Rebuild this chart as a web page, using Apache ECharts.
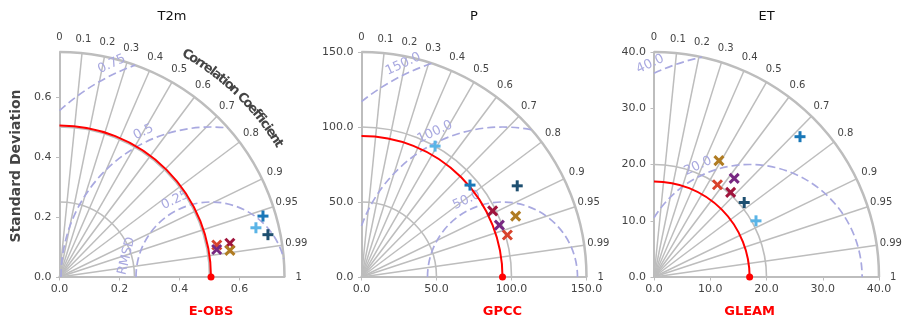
<!DOCTYPE html>
<html>
<head>
<meta charset="utf-8">
<script src="https://cdn.jsdelivr.net/npm/echarts@6/dist/echarts.min.js"></script>
<style>
  html, body { margin: 0; padding: 0; background: #fff; }
  #main { width: 911px; height: 330px; }
</style>
</head>
<body>
<div id="main"></div>
<script>
// panels
var titles = ['T2m', 'P', 'ET'];
var refNames = ['E-OBS', 'GPCC', 'GLEAM'];
var refStd = [0.505, 94, 17];
var stdMax = [0.75, 150, 40];
var stdStep = [0.2, 50, 10];
var stdArcs = [[0.25, 0.5], [50, 100], [20]];
var rmsdLevels = [[0.25, 0.5, 0.75], [50, 100, 150], [20, 40]];
var rmsdLabels = [['0.25', '0.5', '0.75'], ['50.0', '100.0', '150.0'], ['20.0', '40.0']];
var corrTicks = [0, 0.1, 0.2, 0.3, 0.4, 0.5, 0.6, 0.7, 0.8, 0.9, 0.95, 0.99, 1];
var corrLabels = ['0', '0.1', '0.2', '0.3', '0.4', '0.5', '0.6', '0.7', '0.8', '0.9', '0.95', '0.99', '1'];

// models, same order in every panel
var modelColors = ['#1a78b8', '#5ab4e6', '#1e4f70', '#d8432c', '#a0143c', '#782882', '#b07c22'];
var modelMarkers = ['+', '+', '+', 'x', 'x', 'x', 'x'];
var stdT2m = [0.708, 0.675, 0.709, 0.535, 0.579, 0.532, 0.575];
var corrT2m = [0.958, 0.970, 0.980, 0.980, 0.981, 0.985, 0.988];
var stdP = [94.8, 100.1, 120.3, 101.2, 97.9, 98.2, 110.5];
var corrP = [0.763, 0.490, 0.863, 0.961, 0.893, 0.936, 0.930];
var stdET = [36.0, 20.7, 20.8, 19.9, 20.3, 22.6, 23.7];
var corrET = [0.721, 0.876, 0.771, 0.567, 0.671, 0.631, 0.487];
var modelStd = [stdT2m, stdP, stdET];
var modelCorr = [corrT2m, corrP, corrET];

var gridColor = '#bdbdbd';
var rmsdColor = '#a9a9e0';
var textColor = '#444';
var FONT = '"DejaVu Sans"';
var gridLeft = [59.5, 361.5, 654];

function toXY(s, c) {
  return [s * c, s * Math.sqrt(Math.max(0, 1 - c * c))];
}

var measureCtx = document.createElement('canvas').getContext('2d');

function frameItem(p) {
  return function (params, api) {
    var R = stdMax[p], ref = refStd[p];
    var o = api.coord([0, 0]);
    var k = (api.coord([R, 0])[0] - o[0]) / R;
    var kids = [];
    // std arcs
    stdArcs[p].concat([R]).forEach(function (s) {
      kids.push({
        type: 'arc',
        shape: { cx: o[0], cy: o[1], r: s * k, startAngle: -Math.PI / 2, endAngle: 0, clockwise: true },
        style: { stroke: gridColor, lineWidth: s === R ? 2.5 : 1.6, fill: 'none' }
      });
    });
    // correlation rays
    corrTicks.forEach(function (c) {
      if (c <= 0 || c >= 1) return;
      var e = api.coord(toXY(R, c));
      kids.push({
        type: 'line',
        shape: { x1: o[0], y1: o[1], x2: e[0], y2: e[1] },
        style: { stroke: gridColor, lineWidth: 1.5 }
      });
    });
    // correlation tick labels
    corrTicks.forEach(function (c, i) {
      var e = api.coord(toXY(R * 1.063, c));
      kids.push({
        type: 'text', x: e[0], y: e[1],
        style: { text: corrLabels[i], fill: textColor, font: '10px ' + FONT, align: 'center', verticalAlign: 'middle' }
      });
    });
    // rmsd contours
    var rc = api.coord([ref, 0]);
    rmsdLevels[p].forEach(function (r, i) {
      var lo = Math.acos(Math.min(1, (R * R - ref * ref - r * r) / (2 * ref * r)));
      var hi = Math.acos(Math.max(-1, -ref / r));
      kids.push({
        type: 'arc',
        shape: { cx: rc[0], cy: rc[1], r: r * k, startAngle: -hi, endAngle: -lo, clockwise: true },
        style: { stroke: rmsdColor, lineWidth: 1.7, lineDash: [8, 4], fill: 'none' }
      });
      var a = 115 * Math.PI / 180, d = r * k + 10;
      kids.push({
        type: 'text', x: rc[0] + d * Math.cos(a), y: rc[1] - d * Math.sin(a), rotation: a - Math.PI / 2,
        style: { text: rmsdLabels[p][i], fill: rmsdColor, font: '13px ' + FONT, align: 'center', verticalAlign: 'middle' }
      });
    });
    if (p === 0) {
      var a2 = 166 * Math.PI / 180, d2 = rmsdLevels[0][0] * k + 12;
      kids.push({
        type: 'text', x: rc[0] + d2 * Math.cos(a2), y: rc[1] - d2 * Math.sin(a2), rotation: a2 - Math.PI / 2,
        style: { text: 'RMSD', fill: rmsdColor, font: '13px ' + FONT, align: 'center', verticalAlign: 'middle' }
      });
      // curved axis title
      var txt = 'Correlation Coefficient';
      var f = 'bold 13px ' + FONT;
      measureCtx.font = f;
      var total = measureCtx.measureText(txt).width, acc = 0;
      var rr = R * 1.138 * k;
      for (var j = 0; j < txt.length; j++) {
        var w = measureCtx.measureText(txt[j]).width;
        var t = (acc + w / 2) / total;
        acc += w;
        if (txt[j] === ' ') continue;
        var ang = (61 - t * 30) * Math.PI / 180;
        kids.push({
          type: 'text', x: o[0] + rr * Math.cos(ang), y: o[1] - rr * Math.sin(ang), rotation: ang - Math.PI / 2,
          style: { text: txt[j], fill: textColor, font: f, align: 'center', verticalAlign: 'middle' }
        });
      }
    }
    // reference arc + point
    kids.push({
      type: 'arc',
      shape: { cx: o[0], cy: o[1], r: ref * k, startAngle: -Math.PI / 2, endAngle: 0, clockwise: true },
      style: { stroke: '#ff0000', lineWidth: 2, fill: 'none' }
    });
    kids.push({ type: 'circle', shape: { cx: rc[0], cy: rc[1], r: 3.5 }, style: { fill: '#ff0000' } });
    kids.push({
      type: 'text', x: rc[0], y: rc[1] + 35,
      style: { text: refNames[p], fill: '#ff0000', font: 'bold 13px ' + FONT, align: 'center', verticalAlign: 'middle' }
    });
    return { type: 'group', children: kids };
  };
}

function markerItem(params, api) {
  var q = api.coord([api.value(0), api.value(1)]);
  var m = api.value(2);
  var segs = modelMarkers[m] === '+'
    ? [[-5.5, 0, 5.5, 0], [0, -5.5, 0, 5.5]]
    : [[-4.5, -4.5, 4.5, 4.5], [-4.5, 4.5, 4.5, -4.5]];
  return {
    type: 'group',
    children: segs.map(function (s) {
      return {
        type: 'line',
        shape: { x1: q[0] + s[0], y1: q[1] + s[1], x2: q[0] + s[2], y2: q[1] + s[3] },
        style: { stroke: modelColors[m], lineWidth: 3 }
      };
    })
  };
}

var panels = [0, 1, 2];
var chart = echarts.init(document.getElementById('main'));

var series = [];
panels.forEach(function (p) {
  series.push({
    type: 'custom', xAxisIndex: p, yAxisIndex: p, silent: true, z: 2,
    renderItem: frameItem(p), data: [[0, 0]]
  });
  series.push({
    type: 'custom', xAxisIndex: p, yAxisIndex: p, silent: true, z: 5,
    renderItem: markerItem,
    data: modelStd[p].map(function (s, i) {
      var xy = toXY(s, modelCorr[p][i]);
      return [xy[0], xy[1], i];
    })
  });
});

function axisCfg(p, isX) {
  return {
    gridIndex: p, type: 'value', min: 0, max: stdMax[p], interval: stdStep[p],
    axisLine: { show: true, lineStyle: { color: gridColor, width: 2 } },
    axisTick: { show: true, length: 3.5, lineStyle: { color: gridColor, width: 1 } },
    axisLabel: {
      color: textColor, fontSize: 11, fontFamily: 'DejaVu Sans', margin: isX ? 7 : 8,
      showMaxLabel: p !== 0,
      formatter: function (v) { return v.toFixed(1); }
    },
    splitLine: { show: false }
  };
}

chart.setOption({
  animation: false,
  grid: panels.map(function (p) {
    return { left: gridLeft[p], top: 52, width: 225, height: 225 };
  }),
  xAxis: panels.map(function (p) { return axisCfg(p, true); }),
  yAxis: panels.map(function (p) { return axisCfg(p, false); }),
  graphic: panels.map(function (p) {
    return {
      type: 'text', x: gridLeft[p] + 112.5, y: 17,
      style: { text: titles[p], fill: '#111', font: '13px ' + FONT, align: 'center', verticalAlign: 'middle' }
    };
  }).concat([{
    type: 'text', x: 16, y: 166, rotation: Math.PI / 2,
    style: { text: 'Standard Deviation', fill: textColor, font: 'bold 14px ' + FONT, align: 'center', verticalAlign: 'middle' }
  }]),
  series: series
});
</script>
</body>
</html>
